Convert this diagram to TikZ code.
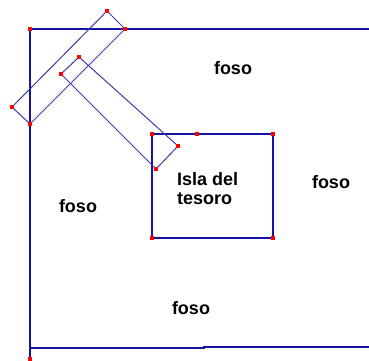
\documentclass[tikz,border=0pt]{standalone}
\usepackage{fontspec}
\setmainfont{Liberation Sans}
\begin{document}
\begin{tikzpicture}[x=1pt,y=-1pt,
  wall/.style={draw=wallblue,line width=1.3pt},
  plank/.style={draw=plankblue,line width=1pt,line join=miter},
  pt/.style={fill=red,draw=none,minimum size=3.5pt,inner sep=0pt,shape=rectangle},
  lbl/.style={font=\bfseries\fontsize{18}{19}\selectfont,inner sep=0pt,text=black}]
\definecolor{wallblue}{RGB}{20,20,160}
\definecolor{plankblue}{RGB}{60,60,170}
\useasboundingbox (0,0) rectangle (369,360);
% outer walls
\coordinate (tl) at (30,29);
\coordinate (tr) at (369,29);
\coordinate (bl) at (30,359);
\coordinate (bm1) at (30,348);
\coordinate (bm2) at (204,348);
\coordinate (bm3) at (204,347);
\coordinate (br) at (369,347);
\draw[wall] (tr) -- (tl) -- (bl);
\draw[wall] (bm1) -- (bm2) -- (bm3) -- (br);
% island
\coordinate (i1) at (152,134);
\coordinate (i2) at (273,134);
\coordinate (i3) at (273,238);
\coordinate (i4) at (152,238);
\coordinate (im) at (197,134);
\draw[wall] (i1) -- (i2) -- (i3) -- (i4) -- cycle;
% plank 1
\coordinate (a1) at (107,11);
\coordinate (a2) at (125,29);
\coordinate (a3) at (30,124);
\coordinate (a4) at (12,107);
\draw[plank] (a1) -- (a2) -- (a3) -- (a4) -- cycle;
% plank 2
\coordinate (b1) at (79,57);
\coordinate (b2) at (178,146);
\coordinate (b3) at (156,169);
\coordinate (b4) at (61,74);
\draw[plank] (b1) -- (b2) -- (b3) -- (b4) -- cycle;
% red points
\foreach \p in {tl,bl,a1,a2,a3,a4,b1,b2,b3,b4,i1,i2,i3,i4,im}
  \node[pt] (d\p) at (\p) {};
% labels
\node[lbl,anchor=base] (f1) at (233,74) {foso};
\node[lbl,anchor=base] (f2) at (331,188) {foso};
\node[lbl,anchor=base] (f3) at (78,212) {foso};
\node[lbl,anchor=base] (f4) at (191,314) {foso};
\node[lbl,anchor=base west,align=left] (isla) at (177,204) {Isla del\\tesoro};
\end{tikzpicture}
\end{document}
